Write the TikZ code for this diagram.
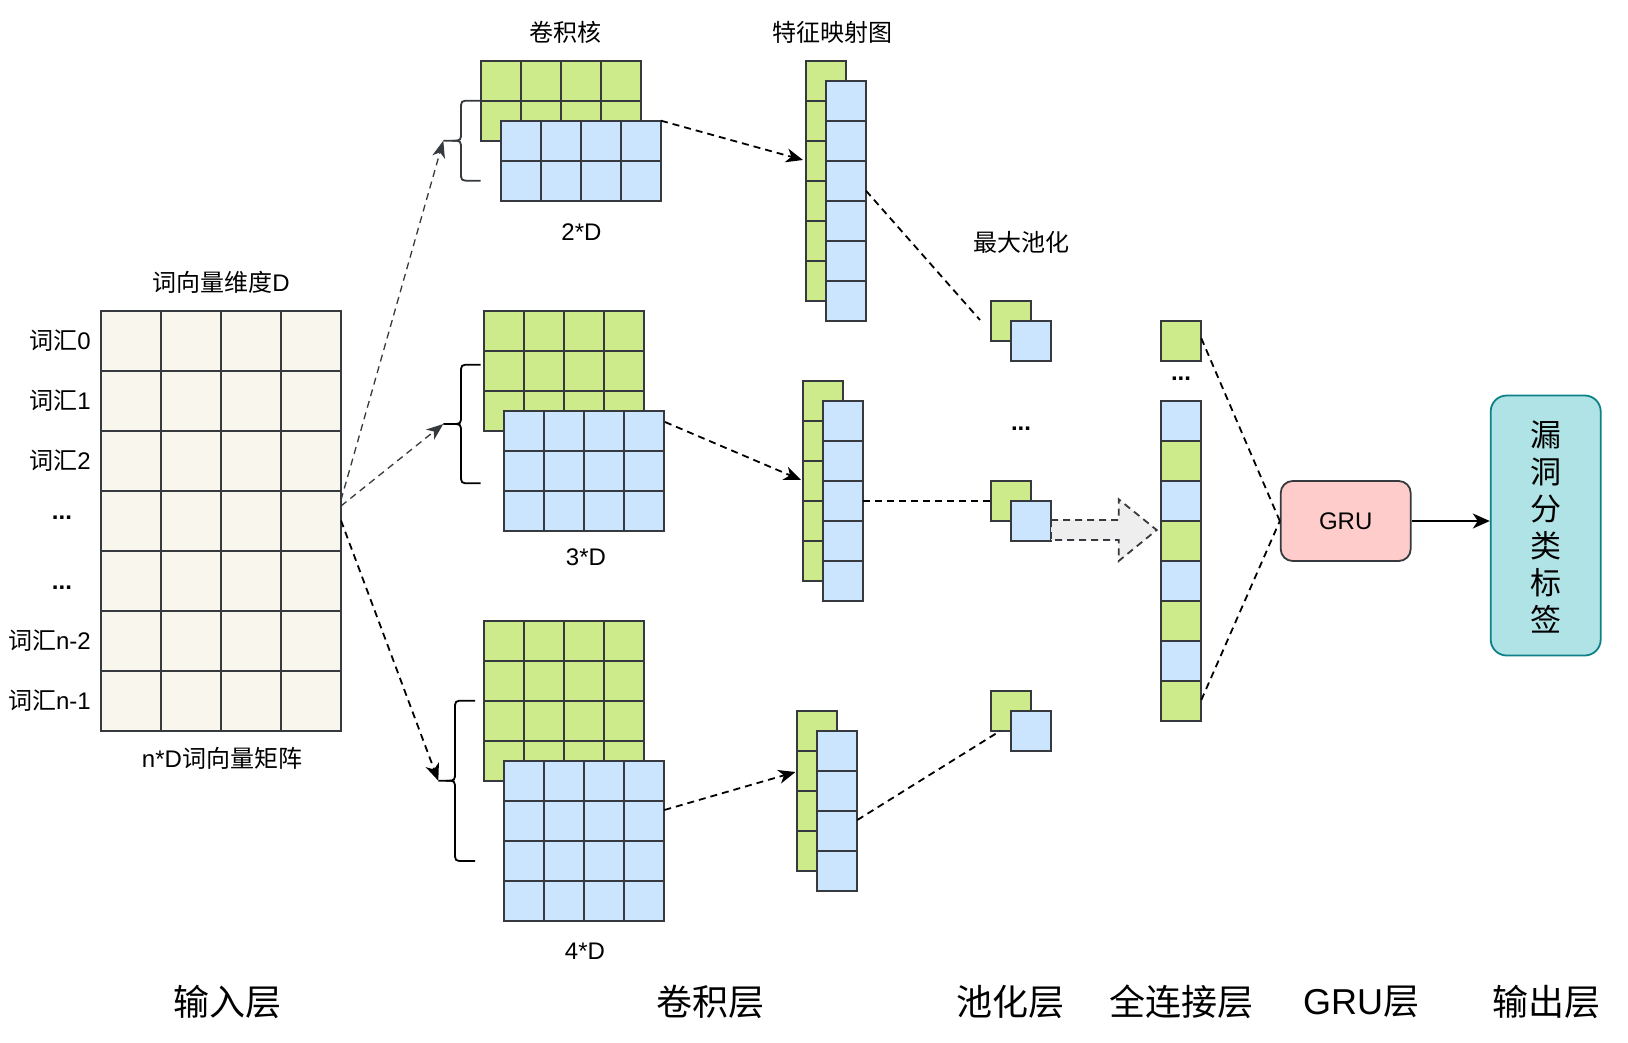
\documentclass[tikz,border=0pt]{standalone}
\usepackage{fontspec}
\setmainfont{Liberation Sans}
\newfontfamily\cjk{Noto Sans CJK SC}
\usetikzlibrary{arrows.meta}
\definecolor{cgreen}{HTML}{CDEB8B}
\definecolor{cblue}{HTML}{CCE5FF}
\definecolor{cstroke}{HTML}{36393D}
\definecolor{cmatrix}{HTML}{F9F7ED}
\definecolor{cgru}{HTML}{FFCCCC}
\definecolor{cout}{HTML}{B0E3E6}
\definecolor{coutline}{HTML}{0E8088}
\definecolor{carrowfill}{HTML}{EEEEEE}
\newcommand\mycells[6]{%
  \foreach \ci in {1,...,#3}{\foreach \cj in {1,...,#4}{%
    \draw[cellst,fill=#6] ({#1+(\ci-1)*#5},{#2+(\cj-1)*#5}) rectangle ++(#5,#5);}}}
\newcommand\mybrace[7]{%
  \draw[bracest,draw=#7] (#1,#2) -- ({#4+9},#2) .. controls (#4,#2) .. (#4,{#2+9}) -- (#4,{#6-9}) .. controls (#4,#6) .. ({#4-9},#6) -- (#5,#6);
  \draw[bracest,draw=#7] ({#4-9},#6) .. controls (#4,#6) .. (#4,{#6+9}) -- (#4,{#3-9}) .. controls (#4,#3) .. ({#4+9},#3) -- (#1,#3);}
\begin{document}
\begin{tikzpicture}[x=1pt,y=-1pt,
  cellst/.style={draw=cstroke,line width=1.8pt},
  bracest/.style={line width=1.8pt},
  lbl/.style={font=\fontsize{24}{29}\selectfont,inner sep=0pt},
  dots/.style={font=\fontsize{24}{29}\selectfont\bfseries,inner sep=0pt,anchor=base},
  biglbl/.style={font=\fontsize{36}{43}\selectfont,inner sep=0pt},
  dashln/.style={dash pattern=on 7pt off 5pt,line width=1.8pt,draw=black},
  dasharr/.style={dashln,-{Stealth[length=17pt,width=14pt,inset=5pt]}},
  thinarr/.style={dash pattern=on 7pt off 5pt,line width=1.3pt,draw=cstroke,-{Stealth[length=17pt,width=13pt,inset=5pt]}},
  solidarr/.style={line width=2pt,draw=black,-{Stealth[length=17pt,width=15pt,inset=5pt]}},
  rbox/.style={draw=cstroke,line width=1.8pt,rounded corners=12pt,inner sep=0pt}]
\fill[white] (0,0) rectangle (1628,1042);
\useasboundingbox (0,0) rectangle (1628,1042);

% input matrix
\mycells{100.7}{310.7}{4}{7}{60}{cmatrix}
\node[lbl] (tdim) at (221,282) {{\cjk 词向量维度}D};
\node[lbl] (tmat) at (222,758) {n*D{\cjk 词向量矩阵}};
\node[lbl,anchor=east] (r0) at (91,340.7) {{\cjk 词汇}0};
\node[lbl,anchor=east] (r1) at (91,400.7) {{\cjk 词汇}1};
\node[lbl,anchor=east] (r2) at (91,460.7) {{\cjk 词汇}2};
\node[dots] (r3) at (62,519) {...};
\node[dots] (r4) at (62,589) {...};
\node[lbl,anchor=east] (r5) at (91,640.7) {{\cjk 词汇}n-2};
\node[lbl,anchor=east] (r6) at (91,700.7) {{\cjk 词汇}n-1};

% kernels
\mycells{480.7}{60.7}{4}{2}{40}{cgreen}
\mycells{500.7}{120.7}{4}{2}{40}{cblue}
\mycells{484}{310.7}{4}{3}{40}{cgreen}
\mycells{504}{410.7}{4}{3}{40}{cblue}
\mycells{484}{620.7}{4}{4}{40}{cgreen}
\mycells{504}{760.7}{4}{4}{40}{cblue}
\node[lbl] (tker) at (565,32) {\cjk 卷积核};
\node[lbl] (t2d) at (581.5,232) {2*D};
\node[lbl] (t3d) at (586,557) {3*D};
\node[lbl] (t4d) at (585,951) {4*D};

% braces
\mybrace{480.7}{100.7}{180.7}{461}{443.3}{140.7}{cstroke}
\mybrace{480.7}{364.7}{483.3}{461}{443.3}{424}{black}
\mybrace{475}{700.7}{861}{455}{438.3}{780.7}{black}

% feature maps
\mycells{805.7}{60.7}{1}{6}{40}{cgreen}
\mycells{825.7}{80.7}{1}{6}{40}{cblue}
\mycells{802.7}{380.7}{1}{5}{40}{cgreen}
\mycells{822.7}{400.7}{1}{5}{40}{cblue}
\mycells{796.7}{710.7}{1}{4}{40}{cgreen}
\mycells{816.7}{730.7}{1}{4}{40}{cblue}
\node[lbl] (tfm) at (832,32) {\cjk 特征映射图};

% pooling
\mycells{990.7}{300.7}{1}{1}{40}{cgreen}
\mycells{1010.7}{320.7}{1}{1}{40}{cblue}
\mycells{990.7}{480.7}{1}{1}{40}{cgreen}
\mycells{1010.7}{500.7}{1}{1}{40}{cblue}
\mycells{990.7}{690.7}{1}{1}{40}{cgreen}
\mycells{1010.7}{710.7}{1}{1}{40}{cblue}
\node[lbl] (tpool) at (1021,242) {\cjk 最大池化};
\node[dots] (pdots) at (1021,430) {...};

% block arrow
\draw[draw=cstroke,fill=carrowfill,line width=1.8pt,dash pattern=on 7pt off 5pt]
  (1051,520) -- (1118.7,520) -- (1118.7,499.3) -- (1156.7,530) -- (1118.7,561) -- (1118.7,540) -- (1051,540) -- cycle;

% fully connected column
\mycells{1160.7}{320.7}{1}{1}{40}{cgreen}
\node[dots] (fdots) at (1181,380) {...};
\foreach \k/\c in {0/cblue,1/cgreen,2/cblue,3/cgreen,4/cblue,5/cgreen,6/cblue,7/cgreen}
  \draw[cellst,fill=\c] (1160.7,{400.7+\k*40}) rectangle ++(40,40);

% GRU and output
\node[rbox,fill=cgru,minimum width=130pt,minimum height=80pt,font=\fontsize{24}{29}\selectfont] (gru) at (1345.7,521) {GRU};
\node[draw=coutline,line width=1.8pt,rounded corners=16pt,fill=cout,minimum width=110pt,minimum height=260pt,inner sep=0pt] (out) at (1545.7,525.5) {};
\node[font=\fontsize{31}{37}\selectfont,align=center,inner sep=0pt] (tout) at (1545.7,527) {\cjk 漏\\\cjk 洞\\\cjk 分\\\cjk 类\\\cjk 标\\\cjk 签};

% connection points
\coordinate (mA) at (341,500);
\coordinate (mB) at (341,506);
\coordinate (mC) at (341,520.5);
\coordinate (b1) at (443.3,140.7);
\coordinate (b2) at (443.3,424);
\coordinate (b3) at (438.3,780.7);
\coordinate (k1o) at (661,120.7);
\coordinate (k2o) at (665,422);
\coordinate (k3o) at (664.3,810);
\coordinate (f1i) at (803,160);
\coordinate (f2i) at (801,480);
\coordinate (f3i) at (795.5,772);
\coordinate (f1o) at (866,190.7);
\coordinate (f2o) at (863,500.7);
\coordinate (f3o) at (857.3,820);
\coordinate (p1i) at (980,320);
\coordinate (p2i) at (990.7,500.7);
\coordinate (p3i) at (1000,731);
\coordinate (fcA) at (1201.3,338.3);
\coordinate (fcB) at (1201.3,700);

% connectors
\draw[thinarr] (mA) -- (b1);
\draw[thinarr] (mB) -- (b2);
\draw[dasharr] (mC) -- (b3);
\draw[dasharr] (k1o) -- (f1i);
\draw[dasharr] (k2o) -- (f2i);
\draw[dasharr] (k3o) -- (f3i);
\draw[dashln] (f1o) -- (p1i);
\draw[dashln] (f2o) -- (p2i);
\draw[dashln] (f3o) -- (p3i);
\draw[dashln] (fcA) -- (gru.west);
\draw[dashln] (fcB) -- (gru.west);
\draw[solidarr] (gru.east) -- (gru.east -| out.west);

% layer labels
\node[biglbl] (L1) at (227,1002) {\cjk 输入层};
\node[biglbl] (L2) at (710.5,1002) {\cjk 卷积层};
\node[biglbl] (L3) at (1010,1002) {\cjk 池化层};
\node[biglbl] (L4) at (1181,1002) {\cjk 全连接层};
\node[biglbl] (L5) at (1361,1002) {GRU{\cjk 层}};
\node[biglbl] (L6) at (1546,1002) {\cjk 输出层};
\end{tikzpicture}
\end{document}
